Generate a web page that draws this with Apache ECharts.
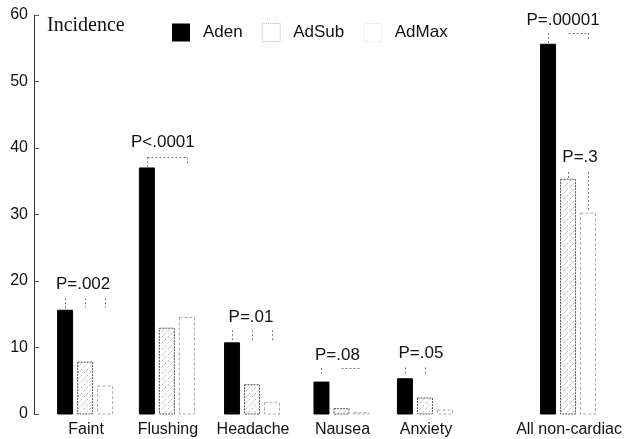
<!DOCTYPE html>
<html>
<head>
<meta charset="utf-8">
<script src="https://cdn.jsdelivr.net/npm/echarts@6/dist/echarts.min.js"></script>
<style>
  html, body { margin: 0; padding: 0; background: #fff; }
  #chart { width: 624px; height: 439px; }
</style>
</head>
<body>
<div id="chart"></div>
<script>
// Non-cardiac side effects: incidence (%) per agent
const categories = ['Faint', 'Flushing', 'Headache', 'Nausea', 'Anxiety', 'All non-cardiac'];
const groupPos   = [0, 0.96, 1.96, 3.01, 3.99, 5.67];   // group centres on the hidden x scale
const aden   = [15.6, 37.0, 10.7, 4.8, 5.3, 55.6];
const adSub  = [7.8, 12.9, 4.4, 0.8, 2.4, 35.3];
const adMax  = [4.2, 14.5, 1.7, 0.2, 0.6, 30.2];
const yTicks = [0, 10, 20, 30, 40, 50, 60];

// significance labels: text, group, height (incidence units), pixel nudge
const pText  = ['P=.002', 'P<.0001', 'P=.01', 'P=.08', 'P=.05', 'P=.00001', 'P=.3'];
const pGroup = [0, 1, 2, 3, 4, 5, 5];
const pY     = [19.5, 40.8, 14.6, 8.9, 9.2, 59.2, 38.6];
const pNudge = [-2, -4, -1, -4, -4, -5, 12];

// comparison brackets: group, top, legs [bar, bottom], joined bars
const brackets = [
  { g: 0, top: 17.4, legs: [[0, 15.9], [1, 16.0], [2, 16.0]], join: null },
  { g: 1, top: 38.6, legs: [[0, 37.2], [2, 37.4]], join: [0, 2] },
  { g: 2, top: 12.6, legs: [[0, 10.9], [1, 11.0], [2, 11.0]], join: null },
  { g: 3, top: 6.9,  legs: [[0, 6.1]], join: [1, 2] },
  { g: 4, top: 7.0,  legs: [[0, 5.9], [1, 6.0]], join: null },
  { g: 5, top: 57.3, legs: [[0, 55.7], [2, 56.2]], join: [1, 2] },
  { g: 5, top: 36.4, legs: [[1, 35.3], [2, 30.4]], join: null }
];

const BAR_W = 15;
const BAR_STEP = 20;
const FONT = '"Liberation Sans", Arial, Helvetica, sans-serif';

// dotted / hatched fill for the AdSub bars
function makeSubPattern() {
  const c = document.createElement('canvas');
  c.width = 6; c.height = 6;
  const ctx = c.getContext('2d');
  ctx.fillStyle = '#ffffff';
  ctx.fillRect(0, 0, 6, 6);
  ctx.fillStyle = '#b8b8b8';
  ctx.fillRect(0, 0, 1, 1);
  ctx.fillRect(3, 3, 1, 1);
  ctx.fillStyle = '#dcdcdc';
  ctx.fillRect(5, 1, 1, 1);
  ctx.fillRect(1, 5, 1, 1);
  ctx.fillRect(2, 4, 1, 1);
  return c;
}
const subPattern = { image: makeSubPattern(), repeat: 'repeat' };

const barStyles = [
  { fill: '#000000', stroke: '#000000', lineWidth: 1 },
  { fill: subPattern, stroke: '#555555', lineWidth: 1, lineDash: [2, 1] },
  { fill: '#ffffff', stroke: '#a8a8a8', lineWidth: 1, lineDash: [3, 2] }
];

function barSeries(name, values, idx) {
  return {
    type: 'custom',
    name: name,
    data: values.map((v, i) => [groupPos[i], v]),
    renderItem: function (params, api) {
      const top = api.coord([api.value(0), api.value(1)]);
      const base = api.coord([api.value(0), 0]);
      const cx = top[0] + (idx - 1) * BAR_STEP;
      return {
        type: 'rect',
        shape: { x: cx - BAR_W / 2, y: top[1], width: BAR_W, height: base[1] - top[1] },
        style: Object.assign({}, barStyles[idx])
      };
    },
    z: 2
  };
}

const bracketSeries = {
  type: 'custom',
  name: 'brackets',
  data: brackets.map((b, i) => [groupPos[b.g], b.top, i]),
  renderItem: function (params, api) {
    const b = brackets[api.value(2)];
    const x0 = api.value(0);
    const yTop = api.coord([x0, b.top])[1];
    const cx = api.coord([x0, 0])[0];
    const children = [];
    const st = { stroke: '#7a7a7a', lineWidth: 1, lineDash: [2, 2] };
    b.legs.forEach(function (leg) {
      const x = Math.round(cx + (leg[0] - 1) * BAR_STEP) + 0.5;
      const yb = api.coord([x0, leg[1]])[1];
      children.push({ type: 'line', shape: { x1: x, y1: yTop, x2: x, y2: yb }, style: st });
    });
    if (b.join) {
      const xa = Math.round(cx + (b.join[0] - 1) * BAR_STEP) + 0.5;
      const xb = Math.round(cx + (b.join[1] - 1) * BAR_STEP) + 0.5;
      children.push({ type: 'line', shape: { x1: xa, y1: Math.round(yTop) + 0.5, x2: xb, y2: Math.round(yTop) + 0.5 }, style: st });
    }
    return { type: 'group', children: children };
  },
  z: 3
};

const pLabelSeries = {
  type: 'custom',
  name: 'pvalues',
  data: pText.map((t, i) => [groupPos[pGroup[i]], pY[i], i]),
  renderItem: function (params, api) {
    const i = api.value(2);
    const p = api.coord([api.value(0), api.value(1)]);
    return {
      type: 'text',
      x: p[0] + pNudge[i],
      y: p[1],
      style: { text: pText[i], font: '17px ' + FONT, fill: '#111', align: 'center', verticalAlign: 'middle' }
    };
  },
  z: 4
};

const categorySeries = {
  type: 'custom',
  name: 'categories',
  data: categories.map((c, i) => [groupPos[i], 0, i]),
  renderItem: function (params, api) {
    const p = api.coord([api.value(0), 0]);
    return {
      type: 'text',
      x: p[0] + 1,
      y: p[1] + 16,
      style: { text: categories[api.value(2)], font: '16px ' + FONT, fill: '#111', align: 'center', verticalAlign: 'middle' }
    };
  },
  z: 4
};

const chart = echarts.init(document.getElementById('chart'), null, { renderer: 'canvas' });
chart.setOption({
  backgroundColor: '#ffffff',
  animation: false,
  grid: { left: 34, right: 4, top: 15, bottom: 25, containLabel: false },
  graphic: [{
    type: 'text',
    left: 47,
    top: 16,
    style: { text: 'Incidence', font: '20px "Liberation Serif", "Times New Roman", serif', fill: '#111' }
  }],
  legend: {
    left: 167,
    top: 18,
    icon: 'rect',
    itemWidth: 18,
    itemHeight: 18,
    itemGap: 19,
    textStyle: { fontFamily: FONT, fontSize: 17, color: '#111', padding: [0, 0, 0, 8] },
    data: [
      { name: 'Aden', itemStyle: { color: '#000', borderWidth: 0 } },
      { name: 'AdSub', itemStyle: { color: '#fff', borderColor: '#b5b5b5', borderWidth: 1, borderType: 'dotted' } },
      { name: 'AdMax', itemStyle: { color: '#fff', borderColor: '#e2e2e2', borderWidth: 1, borderType: 'dotted' } }
    ]
  },
  xAxis: {
    type: 'value',
    min: -0.6,
    max: 6.28,
    show: false
  },
  yAxis: {
    type: 'value',
    min: yTicks[0],
    max: yTicks[yTicks.length - 1],
    interval: 10,
    axisLine: { show: true, onZero: false, lineStyle: { color: '#333', width: 1 } },
    axisTick: { show: true, inside: true, length: 5, lineStyle: { color: '#555' } },
    axisLabel: { fontFamily: FONT, fontSize: 16, color: '#111', margin: 6 },
    splitLine: { show: false }
  },
  series: [
    barSeries('Aden', aden, 0),
    barSeries('AdSub', adSub, 1),
    barSeries('AdMax', adMax, 2),
    bracketSeries,
    pLabelSeries,
    categorySeries
  ]
});
</script>
</body>
</html>
